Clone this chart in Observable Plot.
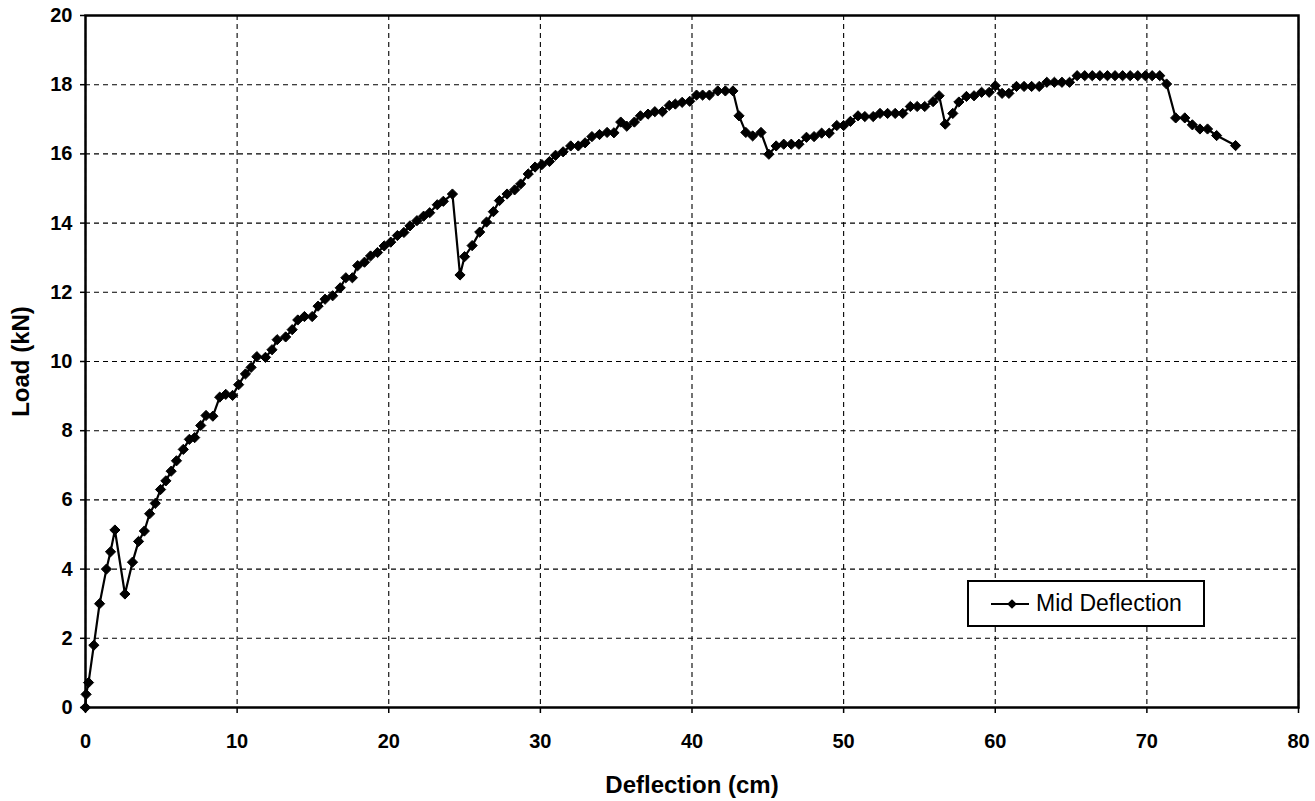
<!DOCTYPE html>
<html>
<head>
<meta charset="utf-8">
<script src="https://cdn.jsdelivr.net/npm/d3@7"></script>
<script src="https://cdn.jsdelivr.net/npm/@observablehq/plot@0.6"></script>
<style>
  html, body { margin: 0; padding: 0; background: #fff; }
  #wrap { position: relative; width: 1315px; height: 801px; font-family: "Liberation Sans", Arial, sans-serif; }
  #legend {
    position: absolute; left: 967px; top: 580px; width: 234px; height: 43px;
    border: 2px solid #000; background: #fff; display: flex; align-items: center;
  }
  #legend svg { margin-left: 22px; margin-right: 7px; }
  #legend span { font-size: 23px; color: #000; }
</style>
</head>
<body>
<div id="wrap"></div>
<script>
const seriesName = "Mid Deflection";
const xTitle = "Deflection (cm)";
const yTitle = "Load (kN)";
const xTicks = [0, 10, 20, 30, 40, 50, 60, 70, 80];
const yTicks = [0, 2, 4, 6, 8, 10, 12, 14, 16, 18, 20];

const deflection = [
  0, 0.04, 0.2, 0.55, 0.93, 1.38, 1.65, 1.94, 2.6, 3.1,
  3.5, 3.88, 4.23, 4.6, 4.95, 5.3, 5.65, 6.0, 6.45, 6.85,
  7.2, 7.6, 7.95, 8.4, 8.85, 9.25, 9.7, 10.1, 10.55, 10.92,
  11.3, 11.87, 12.3, 12.64, 13.2, 13.63, 14.0, 14.44, 14.95, 15.34,
  15.8, 16.3, 16.8, 17.17, 17.6, 17.95, 18.4, 18.8, 19.26, 19.7,
  20.13, 20.57, 21.0, 21.4, 21.86, 22.3, 22.7, 23.2, 23.6, 24.2,
  24.7, 25.0, 25.5, 26.0, 26.45, 26.9, 27.3, 27.8, 28.3, 28.7,
  29.2, 29.65, 30.1, 30.6, 31.0, 31.5, 32.0, 32.5, 32.95, 33.4,
  33.9, 34.4, 34.85, 35.3, 35.7, 36.2, 36.6, 37.1, 37.55, 38.05,
  38.5, 38.9, 39.35, 39.85, 40.3, 40.7, 41.15, 41.7, 42.2, 42.7,
  43.1, 43.55, 44.0, 44.55, 45.07, 45.55, 46.05, 46.55, 47.05, 47.55,
  48.05, 48.55, 49.05, 49.55, 50.0, 50.45, 50.95, 51.4, 51.95, 52.4,
  52.9, 53.4, 53.9, 54.4, 54.85, 55.35, 55.9, 56.3, 56.7, 57.2,
  57.6, 58.1, 58.6, 59.1, 59.6, 60.0, 60.45, 60.9, 61.4, 61.9,
  62.4, 62.9, 63.4, 63.9, 64.4, 64.9, 65.4, 65.9, 66.4, 66.9,
  67.4, 67.9, 68.4, 68.9, 69.4, 69.9, 70.35, 70.85, 71.3, 71.9,
  72.5, 73.0, 73.5, 74.0, 74.6, 75.85
];
const load = [
  0, 0.38, 0.72, 1.8, 3.0, 4.0, 4.5, 5.13, 3.28, 4.2,
  4.8, 5.1, 5.6, 5.9, 6.3, 6.55, 6.83, 7.13, 7.46, 7.75,
  7.8, 8.15, 8.44, 8.42, 8.97, 9.05, 9.02, 9.33, 9.64, 9.83,
  10.14, 10.12, 10.34, 10.63, 10.71, 10.92, 11.2, 11.3, 11.3, 11.6,
  11.8, 11.9, 12.13, 12.42, 12.42, 12.77, 12.87, 13.05, 13.15, 13.34,
  13.45, 13.64, 13.73, 13.92, 14.07, 14.2, 14.3, 14.53, 14.63, 14.84,
  12.5, 13.03, 13.35, 13.74, 14.03, 14.33, 14.65, 14.84, 14.96, 15.13,
  15.42, 15.62, 15.69, 15.78, 15.96, 16.06, 16.23, 16.23, 16.32, 16.5,
  16.56, 16.62, 16.61, 16.92, 16.8, 16.92, 17.1, 17.15, 17.22, 17.22,
  17.4, 17.44, 17.49, 17.52, 17.7, 17.7, 17.7, 17.82, 17.82, 17.82,
  17.1, 16.62, 16.52, 16.62, 15.99, 16.23, 16.28, 16.28, 16.28, 16.48,
  16.5, 16.6, 16.6, 16.82, 16.82, 16.94, 17.1, 17.08, 17.08, 17.17,
  17.17, 17.17, 17.17, 17.37, 17.37, 17.37, 17.51, 17.68, 16.86, 17.17,
  17.5, 17.66, 17.68, 17.78, 17.78, 17.97, 17.75, 17.75, 17.95, 17.95,
  17.95, 17.95, 18.07, 18.07, 18.07, 18.07, 18.26, 18.26, 18.26, 18.26,
  18.26, 18.26, 18.26, 18.26, 18.26, 18.26, 18.26, 18.26, 18.02, 17.04,
  17.04, 16.84, 16.72, 16.72, 16.53, 16.24
];

const n = Math.min(deflection.length, load.length);
const data = d3.range(n).map(i => ({x: deflection[i], y: load[i]}));

const chart = Plot.plot({
  width: 1315,
  height: 801,
  marginLeft: 85,
  marginRight: 17,
  marginTop: 15,
  marginBottom: 94,
  style: {fontFamily: "'Liberation Sans', Arial, sans-serif", background: "#fff", color: "#000"},
  x: {domain: [0, 80]},
  y: {domain: [0, 20]},
  marks: [
    Plot.gridX(xTicks, {stroke: "#000", strokeOpacity: 1, strokeWidth: 1.1, strokeDasharray: "5,4"}),
    Plot.gridY(yTicks, {stroke: "#000", strokeOpacity: 1, strokeWidth: 1.1, strokeDasharray: "5,4"}),
    Plot.frame({stroke: "#000", strokeWidth: 2.5}),
    Plot.axisX(xTicks, {tickSize: 6, tickFormat: () => "", label: null, strokeWidth: 1.5}),
    Plot.axisY(yTicks, {tickSize: 5, tickFormat: () => "", label: null, strokeWidth: 1.5}),
    Plot.text(xTicks, {x: d => d, frameAnchor: "bottom", dy: 40, text: d => String(d), fontSize: 20, fontWeight: "bold", fill: "#000"}),
    Plot.text(yTicks, {y: d => d, frameAnchor: "left", dx: -13, textAnchor: "end", text: d => String(d), fontSize: 20, fontWeight: "bold", fill: "#000"}),
    Plot.line(data, {x: "x", y: "y", stroke: "#000", strokeWidth: 2.2}),
    Plot.dot(data, {x: "x", y: "y", symbol: "diamond2", r: 4.6, fill: "#000", stroke: "#000", strokeWidth: 1}),
    Plot.text([xTitle], {frameAnchor: "bottom", dy: 85, fontSize: 24, fontWeight: "bold", fill: "#000"}),
    Plot.text([yTitle], {frameAnchor: "left", dx: -64, rotate: -90, textAnchor: "middle", fontSize: 24, fontWeight: "bold", fill: "#000"})
  ]
});

const wrap = document.getElementById("wrap");
wrap.appendChild(chart);

const legend = document.createElement("div");
legend.id = "legend";
const sw = d3.create("svg").attr("width", 38).attr("height", 12);
sw.append("line").attr("x1", 0).attr("x2", 38).attr("y1", 6).attr("y2", 6).attr("stroke", "#000").attr("stroke-width", 2);
sw.append("path").attr("d", d3.symbol(d3.symbolDiamond2, 60)()).attr("transform", "translate(21,6)").attr("fill", "#000");
legend.appendChild(sw.node());
const lab = document.createElement("span");
lab.textContent = seriesName;
legend.appendChild(lab);
wrap.appendChild(legend);
</script>
</body>
</html>
